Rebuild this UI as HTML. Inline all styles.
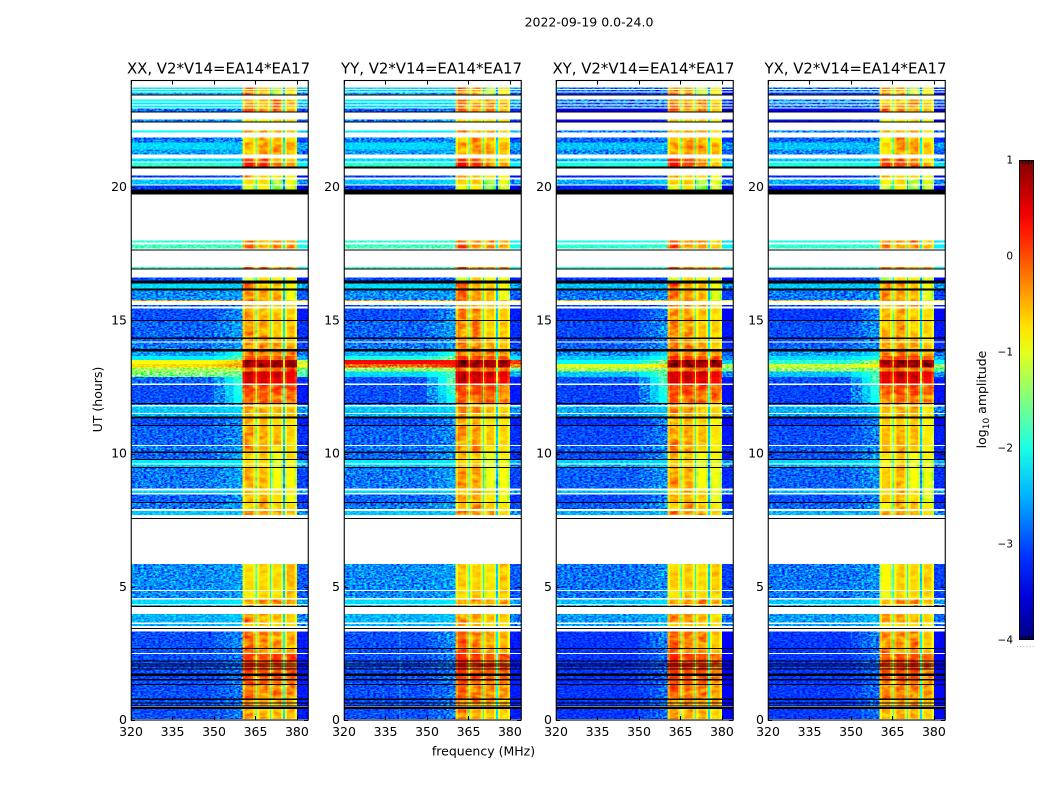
<!DOCTYPE html>
<html lang="en">
<head>
<meta charset="utf-8">
<title>2022-09-19 0.0-24.0</title>
<style>
html,body{margin:0;padding:0;background:#fff;width:1050px;height:800px;overflow:hidden}
svg{display:block;font-family:"DejaVu Sans","Liberation Sans",sans-serif;fill:#000}
.cell{shape-rendering:crispEdges}
.axisline{shape-rendering:crispEdges;stroke:#000;stroke-width:1}
.speckle{mix-blend-mode:overlay}
</style>
</head>
<body>
<svg id="chart" xmlns="http://www.w3.org/2000/svg" width="1050" height="800" viewBox="0 0 1050 800">
  <defs>
    <filter id="speckle-filter" x="0" y="0" width="100%" height="100%" color-interpolation-filters="sRGB">
      <feTurbulence type="fractalNoise" baseFrequency="0.34 0.6" numOctaves="2" seed="4"/>
      <feColorMatrix type="matrix" values="2.2 0 0 0 -0.6  2.2 0 0 0 -0.6  2.2 0 0 0 -0.6  0 0 0 0 1"/>
    </filter>
    <filter id="blotch-filter" x="0" y="0" width="100%" height="100%" color-interpolation-filters="sRGB">
      <feTurbulence type="fractalNoise" baseFrequency="0.1 0.22" numOctaves="2" seed="9"/>
      <feColorMatrix type="matrix" values="1.3 0 0 0 -0.15  1.3 0 0 0 -0.15  1.3 0 0 0 -0.15  0 0 0 0 1"/>
    </filter>
    <linearGradient id="jet-gradient" x1="0" y1="1" x2="0" y2="0"></linearGradient>
  </defs>
  <rect width="1050" height="800" fill="#fff"/>
  <text x="589" y="26.5" font-size="12.5" text-anchor="middle">2022-09-19 0.0-24.0</text>
  <text x="483.5" y="755.5" font-size="12.5" text-anchor="middle">frequency (MHz)</text>
  <text transform="translate(102,399.5) rotate(-90)" font-size="12.5" text-anchor="middle">UT (hours)</text>
  <text transform="translate(986,399.5) rotate(-90)" font-size="12.5" text-anchor="middle">log<tspan font-size="9" dy="3">10</tspan><tspan dy="-3"> amplitude</tspan></text>
  <g id="panels"></g>
  <g id="colorbar"></g>
</svg>
<script>
const panelTitles = ["XX, V2*V14=EA14*EA17", "YY, V2*V14=EA14*EA17", "XY, V2*V14=EA14*EA17", "YX, V2*V14=EA14*EA17"];
const freqTicks = [320, 335, 350, 365, 380];
const hourTicks = [0, 5, 10, 15, 20];
const colorTicks = [1, 0, -1, -2, -3, -4];
const freqRange = [320, 384];
const hourRange = [0, 24];
const colorRange = [-4, 1];

/* frequency channels: background, ramp into band edge, four spectral windows with rims and gaps, right background */
const channelEdges = [320, 350, 354, 357, 360.4, 361.2, 364.2, 365, 365.6, 366.4, 369.4, 370.2, 370.7, 371.5, 374.2, 375, 375.6, 376.4, 379.2, 380, 384];
const channelRoles = ["bg", "m0", "m1", "edge", "r0", "w0", "r0", "g0", "r1", "w1", "r1", "g1", "r2", "w2", "r2", "g2", "r3", "w3", "r3", "right"];
const windowGapDrop = [1.2, 1.5, 1.7];
const windowRimDrop = [0.3];
const rightBandDrop = [0.25];

/* time rows, [start hour, end hour] */
const rowHours = [
[23.74,23.68],[23.64,23.59],[23.55,23.47],[23.29,23.21],[23.17,23.10],[23.06,22.99],[22.95,22.84],[22.54,22.46],
[22.12,22.05],[21.86,21.67],[21.67,21.41],[21.41,21.22],[21.07,20.96],[20.92,20.77],[20.43,20.36],[20.28,20.09],
[20.06,19.91],[17.99,17.92],[17.85,17.69],[17.00,16.94],[16.60,16.49],[16.38,16.19],[16.11,15.77],[15.77,15.74],
[15.57,15.52],[15.44,15.02],[14.99,14.35],[14.30,14.20],[14.17,13.92],
[11.86,11.83],[11.76,11.53],[11.49,11.39],[11.32,11.08],[11.04,10.33],[10.29,10.07],[10.03,9.80],[9.77,9.62],
[9.58,9.50],[9.46,8.68],[8.61,8.51],[8.46,8.19],[8.15,7.91],[7.85,7.70],[5.86,4.88],[4.85,4.57],[4.53,4.36],
[4.32,4.28],[3.98,3.65],[3.61,3.53],[3.33,2.70],[2.67,2.52],[2.48,2.23],[2.20,2.12],[2.10,2.04],[2.00,1.94],
[1.92,1.75],[1.66,1.53],[1.49,1.35],[1.31,0.80],[0.76,0.66],[0.64,0.54],[0.42,0.03]
];
/* log10 amplitude per row: background, edge, window 0-3 */
const rowLevels = [
[-2.2,-2.2,-.3,-.5,-1.1,-.7],[-2.2,-2.2,-.3,-.5,-1.1,-.7],[-2.5,-2.4,-.2,-.5,-1.1,-.7],[-2.1,-2.1,-.4,-.5,-.3,-.6],[-2.2,-2.2,-.4,-.5,-.2,-.5],[-2.2,-2.2,-.3,-.5,-.3,-.5],[-2.8,-2.7,-.1,-.4,-.3,-.5],[-2.7,-2.5,-.7,-.7,-.6,-.7],
[-2.1,-2.1,-.3,-.5,-.4,-.6],[-2.8,-2.7,-.7,-.4,-.5,-.7],[-2.3,-2.4,-.5,-.35,-.35,-.4],[-2.6,-2.5,-.6,-.4,-.4,-.5],[-2.3,-2.3,.1,-.1,-.4,-.7],[-1.9,-2.0,.3,.05,-.2,-.4],[-3.1,-2.9,-.4,-.7,-.7,-.8],[-2.4,-2.3,-.7,-.7,-1.2,-.9],
[-3.1,-3,-1,-.8,-1.3,-1],[-1.9,-1.9,-.2,-.4,-.3,-.4],[-1.8,-1.8,-.2,-.4,-.4,-.4],[-1.8,-1.8,.05,-.2,-.3,-.2],[-3,-2.9,-1.1,-.7,-.8,-.9],[-2.3,-2.4,-.1,-.5,-.6,-.8],[-2.7,-2.6,-.2,-.4,-.5,-.9],[-.4,-.4,-.2,-.3,-.4,-.6],
[-2.9,-2.8,-.3,-.5,-.5,-.7],[-3,-2.7,-.4,-.45,-.6,-.6],[-2.9,-2.6,-.35,-.4,-.6,-.55],[-2.9,-2.7,-.4,-.4,-.5,-.6],[-2.8,-2.6,-.3,-.3,-.4,-.5],
[-2.9,-2.7,-.3,-.4,-.5,-.5],[-2.4,-2.3,-.4,-.4,-.5,-.6],[-2.5,-2.4,-.5,-.5,-.6,-.6],[-3,-2.7,-.5,-.6,-.7,-.7],[-2.9,-2.7,-.4,-.5,-.55,-.65],[-2.8,-2.6,-.4,-.4,-.7,-.7],[-2.9,-2.6,-.6,-.6,-.9,-.7],[-2.2,-2.2,-.7,-.7,-1,-.9],
[-2.4,-2.3,-.7,-.6,-1,-.8],[-2.8,-2.6,-.45,-.5,-.9,-.85],[-2.3,-2.3,-.6,-.5,-.7,-.8],[-2.9,-2.7,-.5,-.5,-.7,-.9],[-2.8,-2.6,-.7,-.4,-.6,-.7],[-2.4,-2.4,-.3,-.4,-.4,-.6],[-2.7,-2.6,-.7,-.65,-.7,-.5],[-2.7,-2.6,-.8,-.65,-.75,-.55],[-2.3,-2.2,-.45,-.35,-.3,-.4],
[-2.4,-2.3,-.4,-.4,-.4,-.5],[-2.5,-2.4,-.3,-.45,-.5,-.6],[-2.5,-2.4,-.6,-.6,-.7,-.7],[-3,-2.7,-.15,-.35,-.35,-.5],[-3,-2.8,-.15,-.35,-.4,-.5],[-3,-2.8,.15,.05,.05,.05],[-3,-2.8,.2,.05,.1,0],[-3,-2.8,.15,.05,.1,0],[-3,-2.8,.15,.05,.1,0],
[-3,-2.8,.1,0,.05,-.05],[-3,-2.8,.05,0,0,-.1],[-3,-2.8,-.05,-.1,-.1,-.2],[-3,-2.8,-.15,-.25,-.25,-.3],[-3,-2.8,-.25,-.35,-.35,-.4],[-3,-2.8,-.3,-.4,-.4,-.45],[-3,-2.8,-.4,-.5,-.5,-.55]
];

/* flare interval rows, which differ by polarisation */
const flareHours = [[13.83,13.67],[13.67,13.52],[13.52,13.37],[13.37,13.22],[13.22,13.07],[13.07,12.88],[12.88,12.62],[12.58,12.20],[12.20,11.90]];
const flareBackground = [[-2.6,-2.5,-2.7,-2.6],[-2.2,-2.0,-2.4,-2.3],[-.9,.35,-2.1,-1.9],[-.7,-.1,-1,-1.1],[-1.3,-1.4,-1.3,-1.4],[-1.5,-2.3,-2.4,-2.4],[-2.9,-3,-3,-3],[-3,-3,-3.05,-3.05],[-3,-3,-3.05,-3.05]];
const flareEdge = [[-2,-2,-2.3,-2.3],[-1.7,-1.6,-2,-2],[-.6,.3,-1.5,-1.3],[-.4,.2,-.7,-.8],[-1.2,-1.3,-1.5,-1.5],[-1.6,-1.8,-1.7,-1.8],[-1.9,-1.7,-1.8,-1.8],[-2,-1.9,-2,-2],[-2.1,-2.1,-2.1,-2.1]];
const flareWindows = [[-.2,-.2,-.3,-.3],[.1,.1,.05,.05],[.95,.95,.95,.95],[.95,.95,.95,.95],[-.1,-.1,-.1,-.15],[.7,.7,.65,.55],[.6,.6,.55,.4],[.05,.05,0,-.05],[-.1,-.1,-.15,-.2]];

/* fully flagged rows, drawn black */
const flaggedHours = [
[23.47,23.44],[22.84,22.80],[22.46,22.42],[20.77,20.69],[19.91,19.72],[17.65,17.62],[16.94,16.90],[16.49,16.38],[16.19,16.11],
[15.02,14.99],[14.35,14.30],[13.92,13.83],[11.90,11.86],[11.39,11.32],[11.08,11.04],[10.07,10.03],[9.80,9.77],[9.50,9.46],
[8.19,8.15],[7.59,7.56],[4.28,4.26],[3.46,3.42],[2.70,2.67],[2.23,2.20],[2.12,2.10],[2.04,2.00],[1.94,1.92],[1.75,1.66],
[1.53,1.49],[1.35,1.31],[0.80,0.76],[0.66,0.64],[0.54,0.50],[0.48,0.42]
];

/* per-panel adjustments */
const panelBackgroundOffset = [0, 0, -0.12, -0.1];
const panelLateOffset = [0, -0.1, -0.55, -0.5];
const lateStartHour = [22];
const panelWindowOffset = [[0,0,0,0],[.08,.05,-.05,-.05],[.05,.05,.02,-.1],[-.15,.02,.02,-.12]];

/* narrow interference line in the YY panel */
const rfiPanel = [1, 1, 1];
const rfiFreq = [340, 340, 340];
const rfiSpan = [[15.77,13.9],[12.9,7.7],[3.98,0.03]];
const rfiLevel = [-1.9, -1.9, -1.9];

const panelLeft = [131, 344, 556, 768];
const panelWidth = [177, 177, 177, 177];
const plotTop = 80.5, plotBottom = 720;
const barLeft = 1019, barRight = 1034, barTop = 160, barBottom = 640;
const bandStart = 360.4, bandEnd = 380;

const NS = "http://www.w3.org/2000/svg";
const root = document.getElementById("panels");
const barRoot = document.getElementById("colorbar");

function make(tag, attrs, parent) {
  const el = document.createElementNS(NS, tag);
  for (const k in attrs) el.setAttribute(k, attrs[k]);
  parent.appendChild(el);
  return el;
}
function xScale(p, mhz) {
  return panelLeft[p] + (mhz - freqRange[0]) / (freqRange[1] - freqRange[0]) * panelWidth[p];
}
function yScale(hour) {
  return plotBottom - (hour - hourRange[0]) / (hourRange[1] - hourRange[0]) * (plotBottom - plotTop);
}
function colorY(level) {
  return barBottom - (level - colorRange[0]) / (colorRange[1] - colorRange[0]) * (barBottom - barTop);
}
function jet(level) {
  const t = Math.min(1, Math.max(0, (level - colorRange[0]) / (colorRange[1] - colorRange[0])));
  const c = v => Math.round(255 * Math.min(1, Math.max(0, v)));
  return "rgb(" + c(1.5 - Math.abs(4 * t - 3)) + "," + c(1.5 - Math.abs(4 * t - 2)) + "," + c(1.5 - Math.abs(4 * t - 1)) + ")";
}
function channelLevel(role, bg, edge, win) {
  if (role === "bg") return bg;
  if (role === "right") return bg - rightBandDrop[0];
  if (role === "edge") return edge;
  if (role === "m0") return bg + (edge - bg) * 0.33;
  if (role === "m1") return bg + (edge - bg) * 0.66;
  const i = +role[1];
  if (role[0] === "w") return win[i];
  if (role[0] === "r") return win[i] - windowRimDrop[0];
  return (win[i] + win[i + 1]) / 2 - windowGapDrop[i];
}
function drawRow(group, p, top, bottom, bg, edge, win) {
  const y0 = yScale(top), y1 = yScale(bottom);
  channelRoles.forEach(function (role, c) {
    const x0 = xScale(p, channelEdges[c]), x1 = xScale(p, channelEdges[c + 1]);
    const cell = make("rect", {class: "cell", x: x0.toFixed(2), y: y0.toFixed(2), width: (x1 - x0).toFixed(2), height: Math.max(1, y1 - y0).toFixed(2), fill: jet(channelLevel(role, bg, edge, win))}, group);
    
    
  });
}

panelTitles.forEach(function (title, p) {
  const left = panelLeft[p], right = left + panelWidth[p];
  const g = make("g", {}, root);
  
  

  const heat = make("g", {}, g);
  
  

  rowHours.forEach(function (span, r) {
    const lv = rowLevels[r];
    const win = lv.slice(2).map((v, i) => v + panelWindowOffset[p][i]);
    const late = span[0] > lateStartHour[0] ? panelLateOffset[p] : 0;
    drawRow(heat, p, span[0], span[1], lv[0] + panelBackgroundOffset[p] + late, lv[1] + panelBackgroundOffset[p] * 0.6 + late, win);
  });
  flareHours.forEach(function (span, r) {
    const win = flareWindows[r].map((v, i) => v + panelWindowOffset[p][i] * 0.5);
    drawRow(heat, p, span[0], span[1], flareBackground[r][p], flareEdge[r][p], win);
  });
  rfiPanel.forEach(function (panel, i) {
    if (panel !== p) return;
    const line = make("rect", {class: "cell", x: xScale(p, rfiFreq[i]).toFixed(2), y: yScale(rfiSpan[i][0]).toFixed(2), width: 1, height: (yScale(rfiSpan[i][1]) - yScale(rfiSpan[i][0])).toFixed(2), fill: jet(rfiLevel[i]), opacity: 0.55}, heat);
    
    
  });

  const bandX0 = xScale(p, bandStart), bandX1 = xScale(p, bandEnd);
  const noiseLeft = make("rect", {class: "speckle", x: left, y: plotTop, width: (bandX0 - left).toFixed(2), height: plotBottom - plotTop, filter: "url(#speckle-filter)"}, g);
  
  
  const noiseRight = make("rect", {class: "speckle", x: bandX1.toFixed(2), y: plotTop, width: (right - bandX1).toFixed(2), height: plotBottom - plotTop, filter: "url(#speckle-filter)"}, g);
  
  
  const blotch = make("rect", {class: "speckle", x: bandX0.toFixed(2), y: plotTop, width: (bandX1 - bandX0).toFixed(2), height: plotBottom - plotTop, filter: "url(#blotch-filter)"}, g);
  
  

  flaggedHours.forEach(function (span) {
    const y0 = yScale(span[0]), y1 = yScale(span[1]);
    const bar = make("rect", {class: "cell", x: left, y: y0.toFixed(2), width: panelWidth[p], height: Math.max(1, y1 - y0).toFixed(2), fill: "#000"}, g);
    
    
  });

  freqTicks.forEach(function (f) {
    const x = Math.round(xScale(p, f)) + 0.5;
    const t1 = make("line", {class: "axisline", x1: x, x2: x, y1: plotBottom, y2: plotBottom - 4}, g);
    
    
    const t2 = make("line", {class: "axisline", x1: x, x2: x, y1: plotTop, y2: plotTop + 4}, g);
    
    
    const lab = make("text", {x: xScale(p, f).toFixed(1), y: 736, "font-size": 12.5, "text-anchor": "middle"}, g);
    lab.textContent = String(f);
    
    
  });
  hourTicks.forEach(function (h) {
    const y = Math.round(yScale(h)) + 0.5;
    const t1 = make("line", {class: "axisline", x1: left, x2: left + 4, y1: y, y2: y}, g);
    
    
    const t2 = make("line", {class: "axisline", x1: right, x2: right - 4, y1: y, y2: y}, g);
    
    
    const lab = make("text", {x: left - 4, y: (yScale(h) + 4).toFixed(1), "font-size": 12.5, "text-anchor": "end"}, g);
    lab.textContent = String(h);
    
    
  });

  const frame = make("rect", {x: left + 0.25, y: plotTop, width: panelWidth[p], height: plotBottom - plotTop, fill: "none", stroke: "#000", "stroke-width": 1.1}, g);
  
  

  const head = make("text", {x: ((left + right) / 2 - 1).toFixed(1), y: 73.5, "font-size": 14.9, "text-anchor": "middle"}, g);
  head.textContent = title;
  
  
});

/* colorbar */
const gradient = document.getElementById("jet-gradient");
const stopLevels = [-4, -3.5625, -3.125, -3, -2.75, -2.5, -2, -1.5, -1, -0.75, -0.5, 0, 0.25, 0.4375, 1];
stopLevels.forEach(function (lv) {
  make("stop", {offset: (lv - colorRange[0]) / (colorRange[1] - colorRange[0]), "stop-color": jet(lv)}, gradient);
});
const barFill = make("rect", {x: barLeft, y: barTop, width: barRight - barLeft, height: barBottom - barTop, fill: "url(#jet-gradient)"}, barRoot);


const barFrame = make("rect", {x: barLeft + 0.5, y: barTop + 0.5, width: barRight - barLeft - 1, height: barBottom - barTop - 1, fill: "none", stroke: "#000", "stroke-width": 1, "shape-rendering": "crispEdges"}, barRoot);


[1022.5, 1025.5, 1028.5, 1031.5].forEach(function (x) {
  const a = make("line", {class: "axisline", x1: x, x2: x, y1: barTop, y2: barTop + 4}, barRoot);
  
  
  const b = make("line", {class: "axisline", x1: x, x2: x, y1: barBottom, y2: barBottom - 4}, barRoot);
  
  
});
colorTicks.forEach(function (v) {
  const lab = make("text", {x: 1013, y: (colorY(v) + 3.5).toFixed(1), "font-size": 10.5, "text-anchor": "end"}, barRoot);
  lab.textContent = v < 0 ? "\u2212" + Math.abs(v) : String(v);
  
  
});
const dots = make("text", {x: 1026, y: 647, "font-size": 6, "text-anchor": "middle", fill: "#666", "letter-spacing": "1.2"}, barRoot);
dots.textContent = "......";


</script>
</body>
</html>
